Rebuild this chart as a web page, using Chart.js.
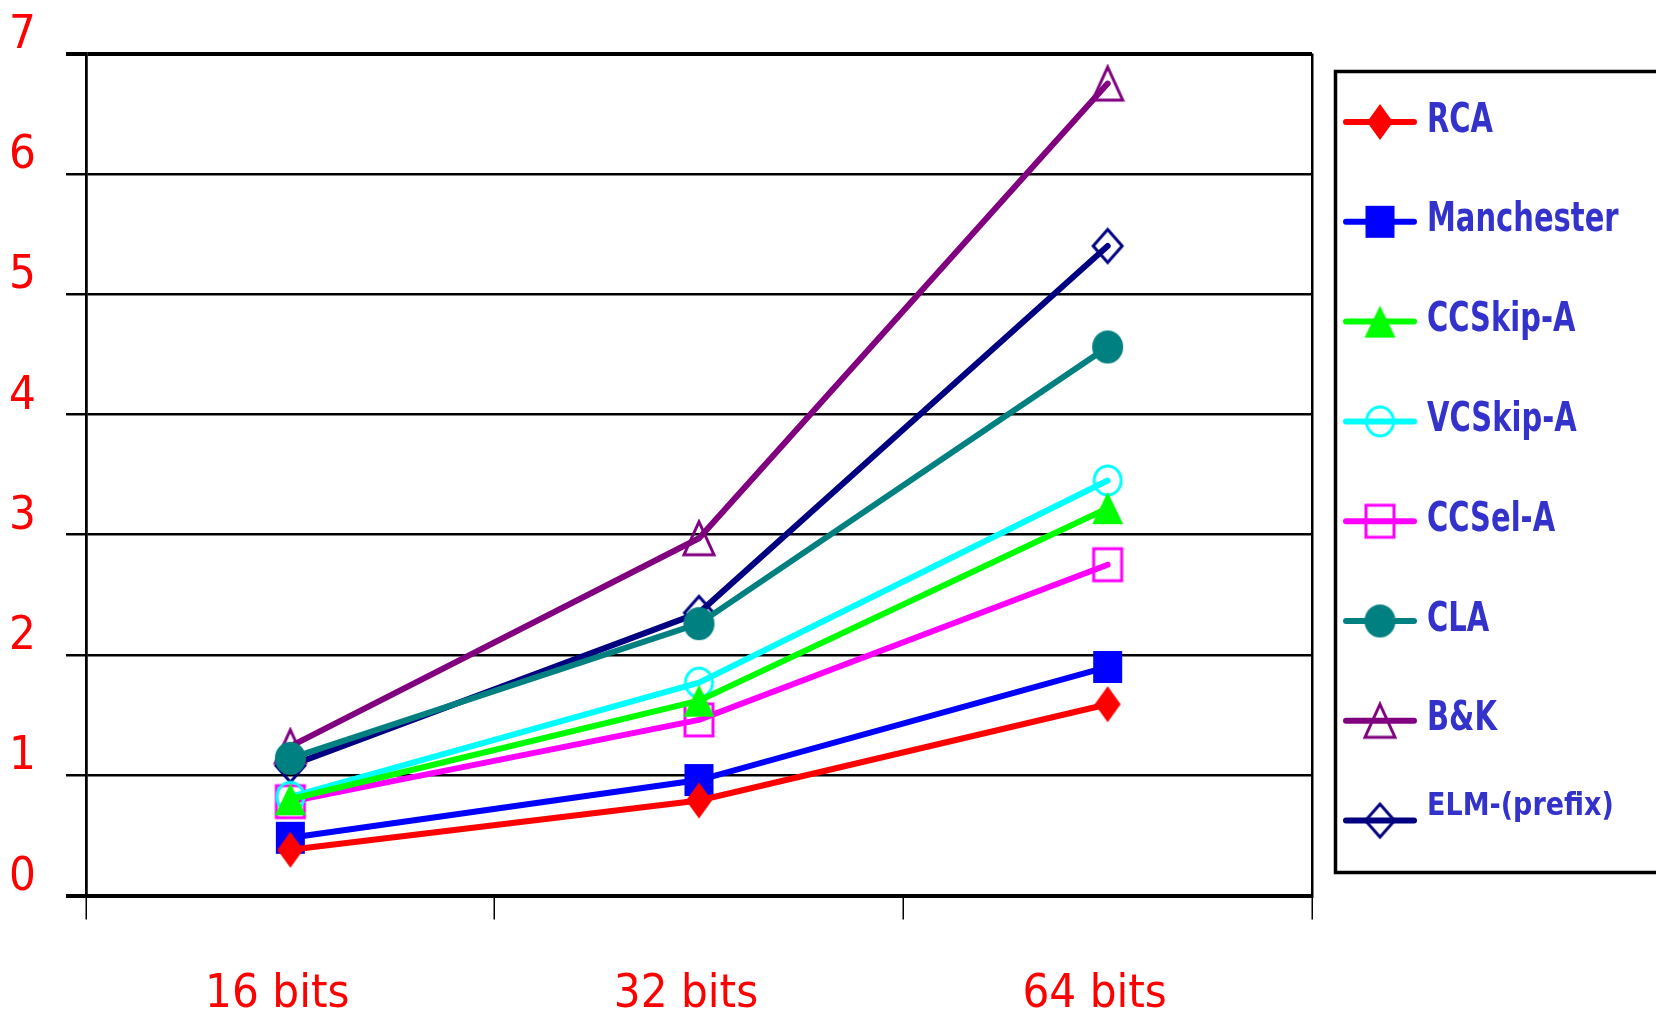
<!DOCTYPE html>
<html>
<head>
<meta charset="utf-8">
<title>Adder delay</title>
<script src="https://cdn.jsdelivr.net/npm/chart.js@4.4.1/dist/chart.umd.min.js"></script>
<style>
  html, body { margin: 0; padding: 0; background: #fff; }
  #wrap { width: 1656px; height: 1018px; }
</style>
</head>
<body>
<div id="wrap"><canvas id="chart"></canvas></div>
<script>
// word widths on the x axis
const widths = ['16 bits', '32 bits', '64 bits'];

// delay per adder type, one value per word width
const rca        = [0.38, 0.79, 1.59];
const manchester = [0.48, 0.96, 1.90];
const ccSkipA    = [0.80, 1.62, 3.22];
const vcSkipA    = [0.82, 1.77, 3.45];
const ccSelA     = [0.78, 1.46, 2.75];
const cla        = [1.14, 2.26, 4.56];
const bk         = [1.24, 2.97, 6.75];
const elm        = [1.08, 2.35, 5.40];

const seriesNames = ['RCA', 'Manchester', 'CCSkip-A', 'VCSkip-A', 'CCSel-A', 'CLA', 'B&K', 'ELM-(prefix)'];
const seriesData  = [rca, manchester, ccSkipA, vcSkipA, ccSelA, cla, bk, elm];
const yTicks = [0, 1, 2, 3, 4, 5, 6, 7];

const lineColors = ['#ff0000', '#0000ff', '#00ff00', '#00ffff', '#ff00ff', '#008080', '#800080', '#000080'];
// shape, filled, width, height
const markerSpecs = [
  ['diamond', true, 26, 36],
  ['square', true, 29, 32],
  ['triangle', true, 31, 32],
  ['circle', false, 27, 29],
  ['square', false, 28, 32],
  ['circle', true, 31, 33],
  ['triangle', false, 30, 33],
  ['diamond', false, 29, 33],
];

const tickFont = "'DejaVu Sans Condensed', 'DejaVu Sans', sans-serif";

// small offscreen canvases used as point styles (slightly taller than wide)
function makeMarker(shape, color, filled, w, h) {
  const pad = 3;
  const c = document.createElement('canvas');
  c.width = w + pad * 2;
  c.height = h + pad * 2;
  const g = c.getContext('2d');
  g.translate(c.width / 2, c.height / 2);
  const hw = w / 2, hh = h / 2;
  g.beginPath();
  if (shape === 'diamond') {
    g.moveTo(0, -hh); g.lineTo(hw, 0); g.lineTo(0, hh); g.lineTo(-hw, 0); g.closePath();
  } else if (shape === 'square') {
    g.rect(-hw, -hh, w, h);
  } else if (shape === 'triangle') {
    g.moveTo(0, -hh); g.lineTo(hw, hh); g.lineTo(-hw, hh); g.closePath();
  } else {
    g.ellipse(0, 0, hw, hh, 0, 0, Math.PI * 2);
  }
  if (filled) {
    g.fillStyle = color;
    g.fill();
  } else {
    g.lineWidth = 3;
    g.strokeStyle = color;
    g.stroke();
  }
  return c;
}

const markers = markerSpecs.map((m, i) => makeMarker(m[0], lineColors[i], m[1], m[2], m[3]));

const datasets = seriesNames.map((name, i) => ({
  label: name,
  data: seriesData[i],
  borderColor: lineColors[i],
  backgroundColor: lineColors[i],
  borderWidth: 6,
  borderCapStyle: 'round',
  tension: 0,
  pointStyle: markers[i],
  pointRadius: 15,
  pointHoverRadius: 15,
}));

// boxed legend on the right: line sample, marker and stretched label
const legendBox = {
  id: 'legendBox',
  afterDraw(chart) {
    const ctx = chart.ctx;
    ctx.save();
    ctx.lineWidth = 3.5;
    ctx.strokeStyle = '#000';
    ctx.strokeRect(1335.5, 71.5, 400, 801);
    chart.data.datasets.forEach((ds, i) => {
      const y = 122 + i * 99.8;
      ctx.beginPath();
      ctx.lineWidth = 6;
      ctx.lineCap = 'round';
      ctx.strokeStyle = ds.borderColor;
      ctx.moveTo(1346, y);
      ctx.lineTo(1414, y);
      ctx.stroke();
      const mk = markers[i];
      ctx.drawImage(mk, 1380 - mk.width / 2, y - mk.height / 2);

      const small = i === chart.data.datasets.length - 1;
      ctx.save();
      ctx.translate(1427, small ? y - 6 : y + 9.5);
      ctx.scale(1, small ? 1.2 : 1.4);
      ctx.font = (small ? 'bold 27px ' : 'bold 29px ') + "'DejaVu Sans', sans-serif";
      ctx.fillStyle = '#3333cc';
      ctx.textBaseline = 'alphabetic';
      ctx.textAlign = 'left';
      ctx.fillText(ds.label, 0, 0);
      ctx.restore();
    });
    ctx.restore();
  }
};

new Chart(document.getElementById('chart'), {
  type: 'line',
  data: { labels: widths, datasets: datasets },
  plugins: [legendBox],
  options: {
    responsive: true,
    maintainAspectRatio: false,
    animation: false,
    devicePixelRatio: 1,
    layout: { padding: { top: 48, right: 344, bottom: 0, left: 0 } },
    plugins: {
      legend: { display: false },
      tooltip: { enabled: false },
    },
    scales: {
      x: {
        offset: true,
        grid: {
          offset: true,
          // only the outer edges of the plot get a vertical line
          color: c => (c.index === 0 || c.index === undefined || c.index >= widths.length) ? '#000' : 'rgba(0,0,0,0)',
          lineWidth: 2.5,
          tickColor: '#000',
          tickWidth: 1.5,
          tickLength: 24,
        },
        border: { display: true, color: '#000', width: 4 },
        ticks: {
          color: '#ff0000',
          font: { family: tickFont, size: 47, lineHeight: 1 },
          padding: 52,
          labelOffset: -13,
          maxRotation: 0,
        },
        afterFit(scale) { scale.height = 122.5; },
      },
      y: {
        min: yTicks[0],
        max: yTicks[yTicks.length - 1],
        afterBuildTicks(scale) { scale.ticks = yTicks.map(v => ({ value: v })); },
        grid: {
          color: '#000',
          lineWidth: c => (c.tick && (c.tick.value === 0 || c.tick.value === 7)) ? 4 : 2.5,
          tickColor: '#000',
          tickLength: 20,
        },
        border: { display: true, color: '#000', width: 2.5 },
        ticks: {
          color: '#ff0000',
          font: { family: tickFont, size: 47, lineHeight: 1 },
          padding: 30,
          labelOffset: -18,
        },
        afterFit(scale) { scale.width = 86; },
      },
    },
  },
});
</script>
</body>
</html>
